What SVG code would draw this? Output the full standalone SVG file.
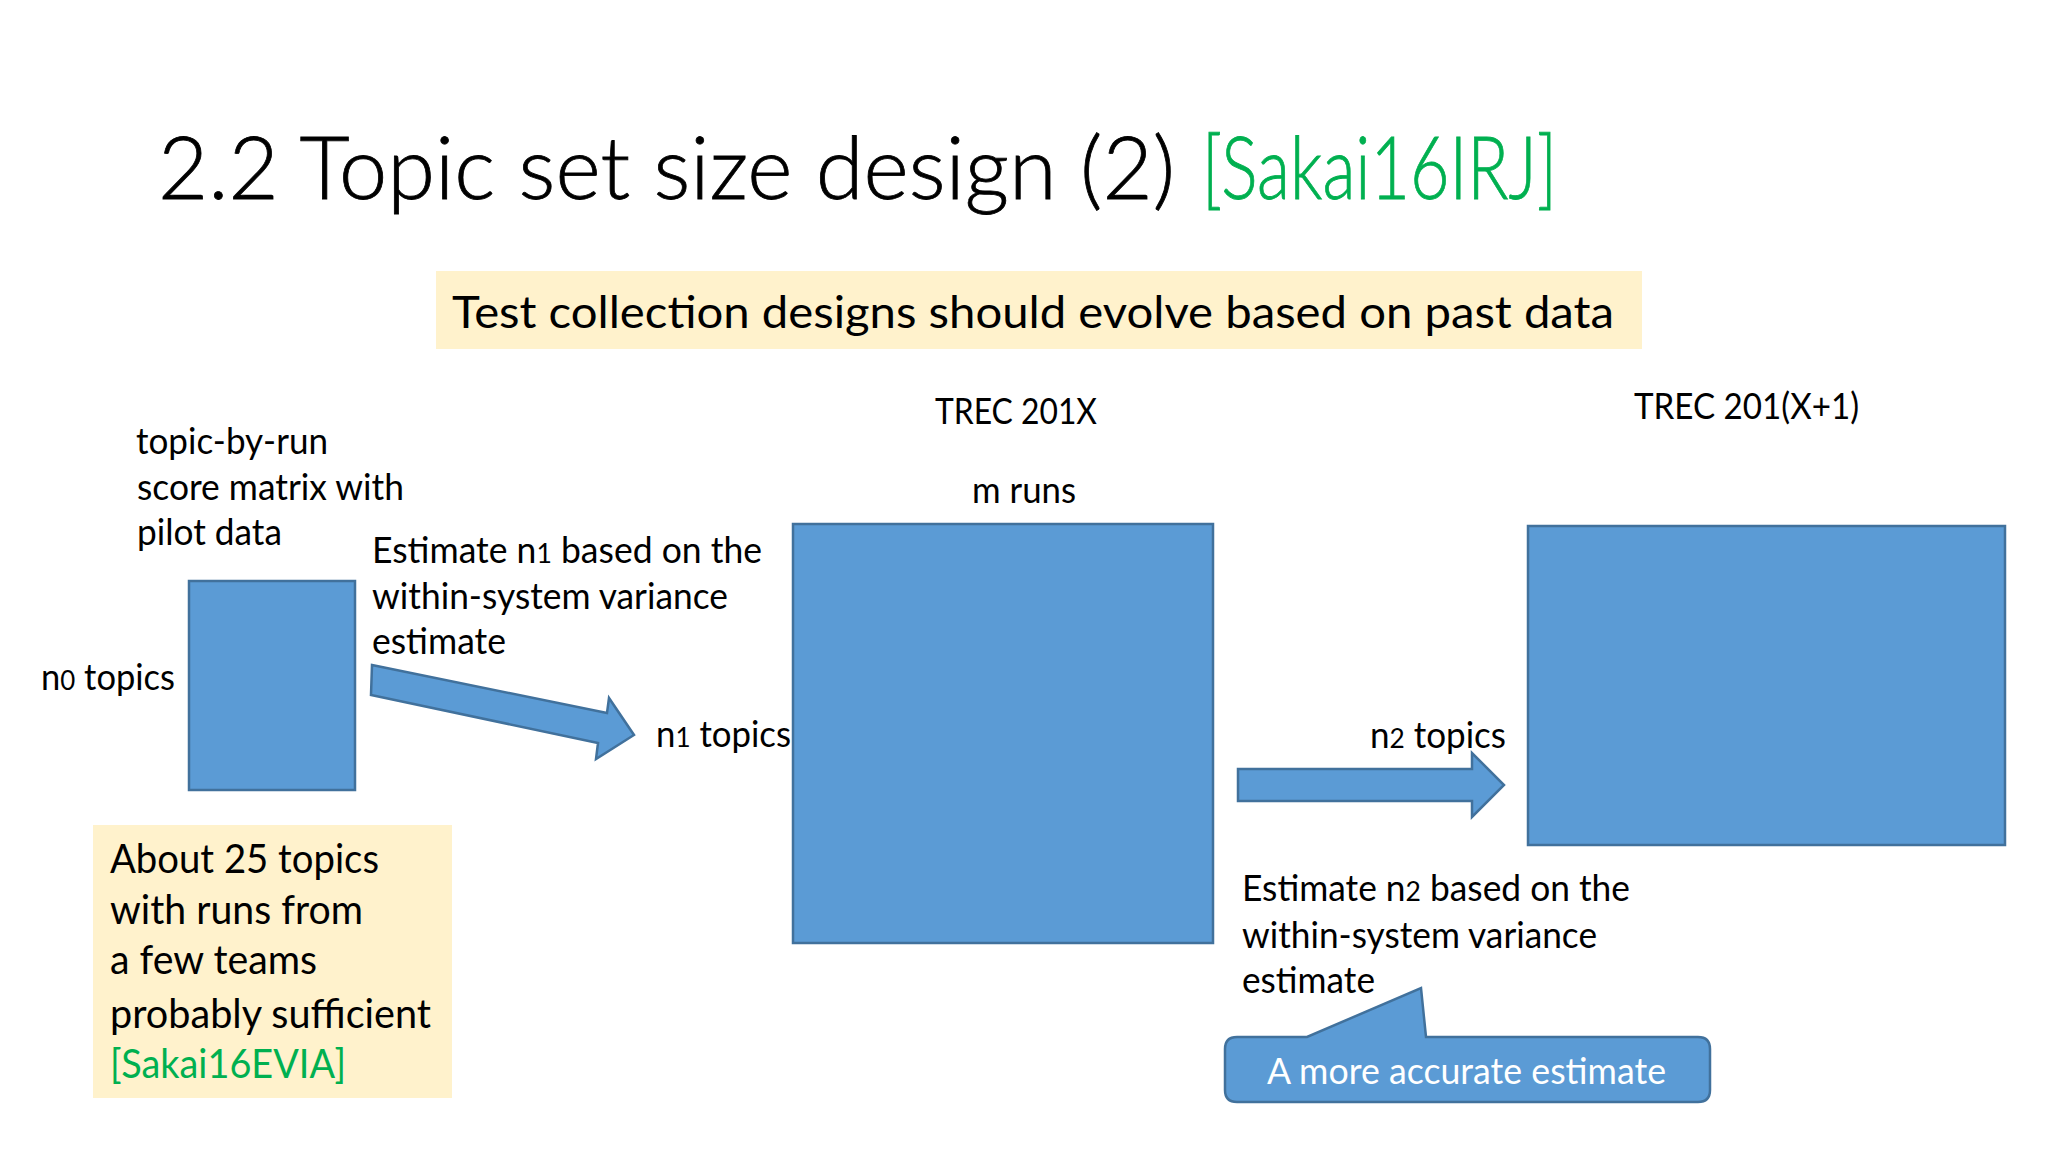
<svg xmlns="http://www.w3.org/2000/svg" width="2048" height="1152" viewBox="0 0 2048 1152">
<style>
text{font-family:Lato,"Open Sans","Liberation Sans",sans-serif;fill:#000}
.title{font-size:86px;font-weight:300;stroke:#000;stroke-width:0.8}
.green{fill:#00B050}
.title.green{stroke:#00B050}
.body{font-size:36px}
.box{font-size:40px}
.sub{font-size:27px}
.blk{fill:#5B9BD5;stroke:#41719C;stroke-width:2.5}
.note{fill:#FFF2CC}
</style>
<rect width="2048" height="1152" fill="#fff"/>
<g id="title">
<text class="title" x="158" y="199" textLength="1017" lengthAdjust="spacingAndGlyphs">2.2 Topic set size design (2)</text>
<text class="title green" x="1202" y="199" textLength="355" lengthAdjust="spacingAndGlyphs">[Sakai16IRJ]</text>
</g>
<g id="banner">
<rect class="note" x="436" y="271" width="1206" height="78"/>
<text x="452" y="328" style="font-size:44px" textLength="1162" lengthAdjust="spacingAndGlyphs">Test collection designs should evolve based on past data</text>
</g>
<g id="pilot-label">
<text class="body" x="136" y="454" textLength="192" lengthAdjust="spacingAndGlyphs">topic-by-run</text>
<text class="body" x="137" y="500" textLength="267" lengthAdjust="spacingAndGlyphs">score matrix with</text>
<text class="body" x="137" y="545" textLength="145" lengthAdjust="spacingAndGlyphs">pilot data</text>
</g>
<g id="pilot-matrix">
<rect class="blk" x="189" y="581" width="166" height="209"/>
<text class="body" x="41" y="690" textLength="134" lengthAdjust="spacingAndGlyphs">n<tspan class="sub">0</tspan> topics</text>
</g>
<g id="estimate-n1">
<text class="body" x="372" y="563" textLength="390" lengthAdjust="spacingAndGlyphs">Estimate n<tspan class="sub">1</tspan> based on the</text>
<text class="body" x="372" y="609" textLength="356" lengthAdjust="spacingAndGlyphs">within-system variance</text>
<text class="body" x="372" y="654" textLength="134" lengthAdjust="spacingAndGlyphs">estimate</text>
</g>
<g id="trec-201x">
<text class="body" x="935" y="424" textLength="162" lengthAdjust="spacingAndGlyphs">TREC 201X</text>
<text class="body" x="972" y="503" textLength="104" lengthAdjust="spacingAndGlyphs">m runs</text>
<rect class="blk" x="793" y="524" width="420" height="419"/>
<text class="body" x="656" y="747" textLength="135" lengthAdjust="spacingAndGlyphs">n<tspan class="sub">1</tspan> topics</text>
</g>
<g id="trec-201x1">
<text class="body" x="1634" y="419" textLength="225" lengthAdjust="spacingAndGlyphs">TREC 201(X+1)</text>
<rect class="blk" x="1528" y="526" width="477" height="319"/>
<text class="body" x="1370" y="748" textLength="136" lengthAdjust="spacingAndGlyphs">n<tspan class="sub">2</tspan> topics</text>
</g>
<g id="estimate-n2">
<text class="body" x="1242" y="901" textLength="388" lengthAdjust="spacingAndGlyphs">Estimate n<tspan class="sub">2</tspan> based on the</text>
<text class="body" x="1242" y="948" textLength="355" lengthAdjust="spacingAndGlyphs">within-system variance</text>
<text class="body" x="1242" y="993" textLength="133" lengthAdjust="spacingAndGlyphs">estimate</text>
</g>
<g id="callout">
<path class="blk" d="M1237,1037 H1307 L1421,988 L1426,1037 H1698 Q1710,1037 1710,1049 V1090 Q1710,1102 1698,1102 H1237 Q1225,1102 1225,1090 V1049 Q1225,1037 1237,1037 Z"/>
<text class="body" x="1267" y="1084" style="fill:#fff" textLength="399" lengthAdjust="spacingAndGlyphs">A more accurate estimate</text>
</g>
<g id="pilot-note">
<rect class="note" x="93" y="825" width="359" height="273"/>
<text class="box" x="110" y="873" textLength="269" lengthAdjust="spacingAndGlyphs">About 25 topics</text>
<text class="box" x="110" y="924" textLength="253" lengthAdjust="spacingAndGlyphs">with runs from</text>
<text class="box" x="110" y="974" textLength="207" lengthAdjust="spacingAndGlyphs">a few teams</text>
<text class="box" x="110" y="1028" textLength="321" lengthAdjust="spacingAndGlyphs">probably sufficient</text>
<text class="box green" x="110" y="1078" textLength="236" lengthAdjust="spacingAndGlyphs">[Sakai16EVIA]</text>
</g>
<g id="connectors">
<path class="blk" d="M372,665 L607,713 L609,698 L634,735 L596,759 L598,743 L371,695 Z"/>
<path class="blk" d="M1238,769 H1472 V753 L1504,785 L1472,817 V801 H1238 Z"/>
</g>
</svg>
